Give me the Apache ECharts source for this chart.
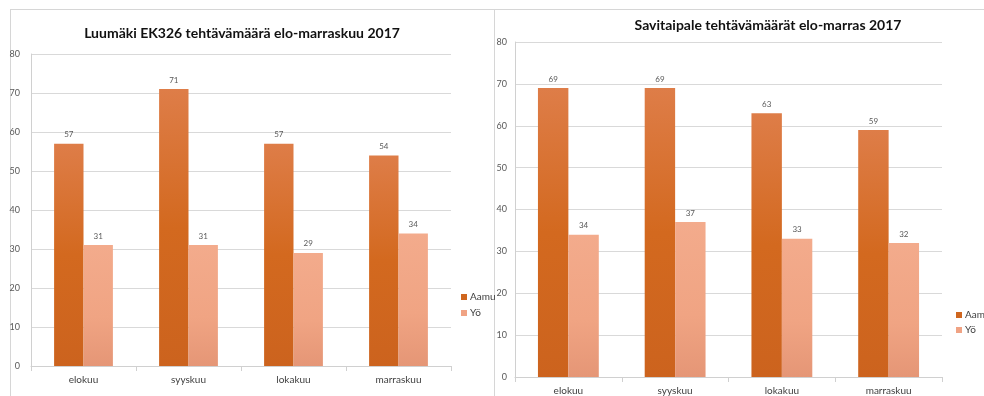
<!DOCTYPE html>
<html><head><meta charset="utf-8">
<script src="https://cdn.jsdelivr.net/npm/echarts@6/dist/echarts.min.js"></script>
<style>html,body{margin:0;padding:0;background:#fff}#c{width:984px;height:396px}</style>
</head><body><div id="c"></div>
<script>
const categories = ['elokuu','syyskuu','lokakuu','marraskuu'];
const seriesNames = ['Aamu','Yö'];
const yTicks = [0,10,20,30,40,50,60,70,80];
const luumakiTitle = 'Luumäki EK326 tehtävämäärä elo-marraskuu 2017';
const luumakiAamu = [57,71,57,54];
const luumakiYo = [31,31,29,34];
const savitaipaleTitle = 'Savitaipale tehtävämäärät elo-marras 2017';
const savitaipaleAamu = [69,69,63,59];
const savitaipaleYo = [34,37,33,32];

const aamuColor = {type:'linear',x:0,y:0,x2:0,y2:1,colorStops:[{offset:0,color:'#de7d48'},{offset:0.5,color:'#d3691f'},{offset:1,color:'#cc631e'}]};
const yoColor = {type:'linear',x:0,y:0,x2:0,y2:1,colorStops:[{offset:0,color:'#f3ab8c'},{offset:0.6,color:'#f0a483'},{offset:1,color:'#e59676'}]};
const FONT = 'Lato';
const chart = echarts.init(document.getElementById('c'));
function yAxis(gi){return {type:'value',gridIndex:gi,min:yTicks[0],max:yTicks[yTicks.length-1],interval:10,
  axisLine:{show:true,lineStyle:{color:'#d0d0d0'}},axisTick:{show:false},
  axisLabel:{color:'#595959',fontSize:9,fontFamily:FONT,margin:gi===0?11:8},
  splitLine:{lineStyle:{color:'#d9d9d9'}}};}
function xAxis(gi){return {type:'category',gridIndex:gi,data:categories,
  axisLine:{lineStyle:{color:'#d0d0d0'}},axisTick:{show:true,length:5,lineStyle:{color:'#d0d0d0'}},
  axisLabel:{color:'#404040',fontSize:10,fontFamily:FONT,margin:9}};}
function bar(name,data,gi,color,gap){return {type:'bar',name:name,data:data,xAxisIndex:gi,yAxisIndex:gi,
  barGap:'0%',barCategoryGap:gap,itemStyle:{color:color},
  label:{show:true,position:'top',distance:5,fontSize:8,color:'#595959',fontFamily:FONT}};}
function legend(left,top,gap){return {orient:'vertical',left:left,top:top,itemWidth:6,itemHeight:6,itemGap:gap,icon:'rect',
  textStyle:{fontSize:10,color:'#404040',fontFamily:FONT,padding:[0,0,0,-2]},
  data:[{name:seriesNames[0],itemStyle:{color:'#cf661f'}},{name:seriesNames[1],itemStyle:{color:'#f0a384'}}],selectedMode:false};}
chart.setOption({
  animation:false,
  title:[
    {text:luumakiTitle,left:237,top:21,textAlign:'center',textStyle:{fontSize:14,fontWeight:'bold',color:'#111',fontFamily:FONT}},
    {text:savitaipaleTitle,left:763,top:13,textAlign:'center',textStyle:{fontSize:14,fontWeight:'bold',color:'#111',fontFamily:FONT}}
  ],
  legend:[legend(456,287,6),legend(951,305,5)],
  grid:[{left:31,right:533,top:54,bottom:30},{left:515,right:42,top:42,bottom:19}],
  xAxis:[xAxis(0),xAxis(1)],
  yAxis:[yAxis(0),yAxis(1)],
  series:[
    bar(seriesNames[0],luumakiAamu,0,aamuColor,'44%'),
    bar(seriesNames[1],luumakiYo,0,yoColor,'44%'),
    bar(seriesNames[0],savitaipaleAamu,1,aamuColor,'43%'),
    bar(seriesNames[1],savitaipaleYo,1,yoColor,'43%')
  ],
  graphic:[
    {type:'line',shape:{x1:10,y1:9.5,x2:984,y2:9.5},style:{stroke:'#d6d6d6',lineWidth:1},silent:true},
    {type:'line',shape:{x1:10.5,y1:9,x2:10.5,y2:396},style:{stroke:'#d6d6d6',lineWidth:1},silent:true},
    {type:'line',shape:{x1:494.5,y1:9,x2:494.5,y2:396},style:{stroke:'#d6d6d6',lineWidth:1},silent:true}
  ]
});
</script></body></html>
